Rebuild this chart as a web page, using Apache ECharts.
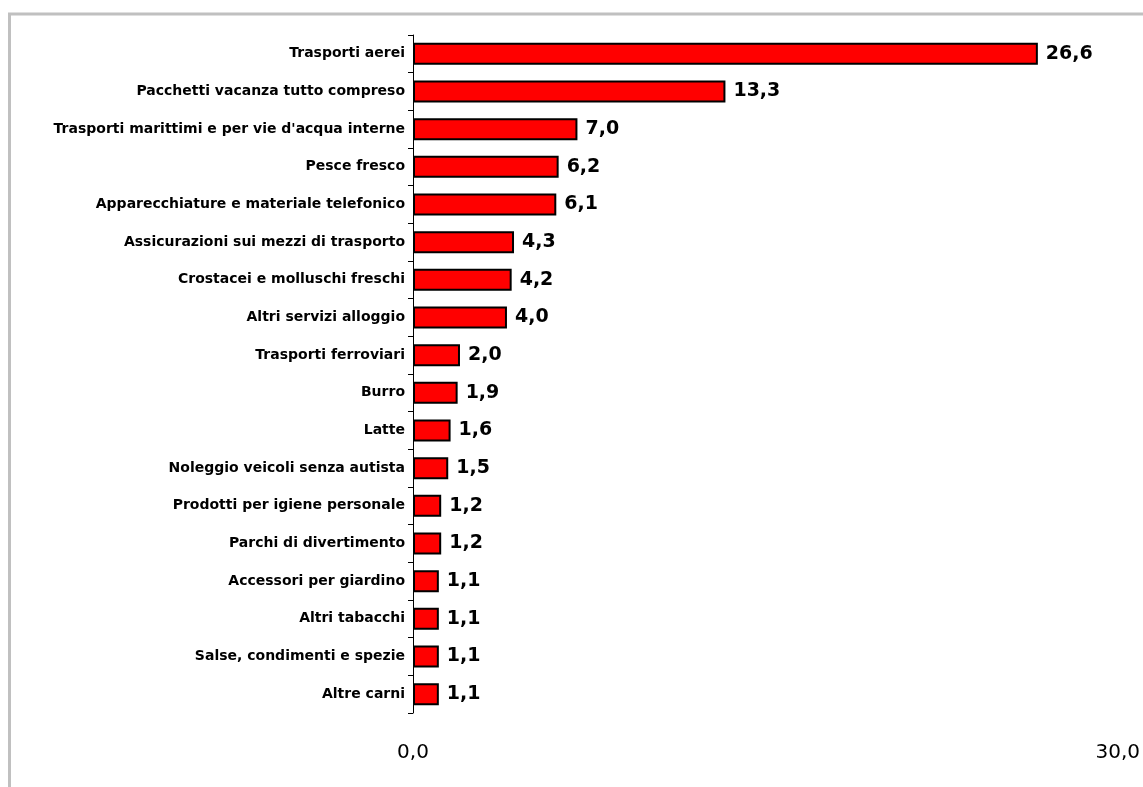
<!DOCTYPE html>
<html>
<head>
<meta charset="utf-8">
<script src="https://cdn.jsdelivr.net/npm/echarts@6/dist/echarts.min.js"></script>
<style>
html,body{margin:0;padding:0;background:#fff;}
#main{width:1143px;height:787px;}
</style>
</head>
<body>
<div id="main"></div>
<script>
const categories = [
  "Trasporti aerei",
  "Pacchetti vacanza tutto compreso",
  "Trasporti marittimi e per vie d'acqua interne",
  "Pesce fresco",
  "Apparecchiature e materiale telefonico",
  "Assicurazioni sui mezzi di trasporto",
  "Crostacei e molluschi freschi",
  "Altri servizi alloggio",
  "Trasporti ferroviari",
  "Burro",
  "Latte",
  "Noleggio veicoli senza autista",
  "Prodotti per igiene personale",
  "Parchi di divertimento",
  "Accessori per giardino",
  "Altri tabacchi",
  "Salse, condimenti e spezie",
  "Altre carni"
];
const values = [26.6, 13.3, 7.0, 6.2, 6.1, 4.3, 4.2, 4.0, 2.0, 1.9, 1.6, 1.5, 1.2, 1.2, 1.1, 1.1, 1.1, 1.1];
const axisMin = 0;
const axisMax = 30;

const fmt = v => Number(v).toFixed(1).replace('.', ',');

const chart = echarts.init(document.getElementById('main'));
chart.setOption({
  animation: false,
  backgroundColor: '#ffffff',
  graphic: [
    { type: 'line', shape: { x1: 8, y1: 14, x2: 1143, y2: 14 }, style: { stroke: '#c0c0c0', lineWidth: 3 } },
    { type: 'line', shape: { x1: 9.5, y1: 14, x2: 9.5, y2: 787 }, style: { stroke: '#c0c0c0', lineWidth: 3 } }
  ],
  grid: { left: 413, right: 21, top: 35, bottom: 74, containLabel: false },
  xAxis: {
    type: 'value',
    min: axisMin,
    max: axisMax,
    interval: 30,
    axisLine: { show: false },
    axisTick: { show: false },
    splitLine: { show: false },
    axisLabel: {
      margin: 30,
      formatter: v => fmt(v),
      fontFamily: 'DejaVu Sans',
      fontSize: 20,
      color: '#000'
    }
  },
  yAxis: {
    type: 'category',
    data: categories,
    inverse: true,
    axisLine: { show: true, lineStyle: { color: '#000', width: 1 } },
    axisTick: { show: true, length: 5, lineStyle: { color: '#000' } },
    axisLabel: {
      margin: 8,
      fontFamily: 'DejaVu Sans',
      fontWeight: 'bold',
      fontSize: 14,
      color: '#000'
    }
  },
  series: [{
    type: 'bar',
    data: values,
    barWidth: 22,
    itemStyle: { color: '#ff0000', borderColor: '#000', borderWidth: 2 },
    label: {
      show: true,
      position: 'right',
      distance: 8,
      formatter: p => fmt(p.value),
      fontFamily: 'DejaVu Sans',
      fontWeight: 'bold',
      fontSize: 19,
      color: '#000'
    }
  }]
});
</script>
</body>
</html>
